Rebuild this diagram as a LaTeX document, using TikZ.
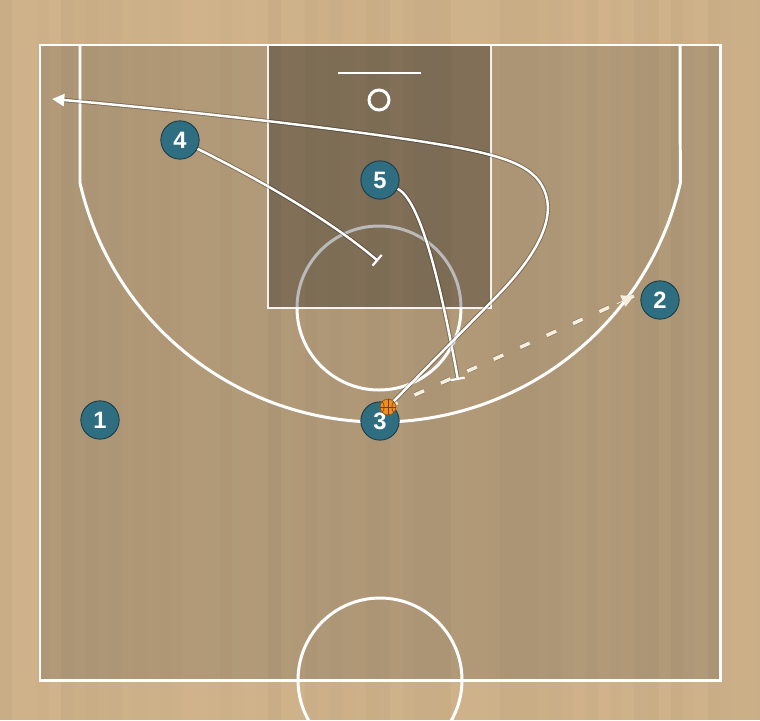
\documentclass[tikz,border=0pt]{standalone}
\usepackage{fontspec}
\setsansfont{Liberation Sans}
\usetikzlibrary{arrows.meta,calc}
\definecolor{floor}{HTML}{D2B58C}
\definecolor{court}{HTML}{B49C7A}
\definecolor{player}{HTML}{2F6E80}
\definecolor{playerrim}{HTML}{1C3A44}
\definecolor{passcol}{HTML}{F6EFE0}
\definecolor{ballcol}{HTML}{EE8E1E}
\definecolor{seamcol}{HTML}{7A3E0A}
\begin{document}
\begin{tikzpicture}[x=0.02cm,y=-0.02cm,
  courtline/.style={white,line width=1.7pt},
  plyr/.style={circle,fill=player,draw=playerrim,line width=0.5pt,minimum size=21.8pt,inner sep=0pt,text=white,font=\sffamily\bfseries\fontsize{13.5}{13.5}\selectfont},
  ballnode/.style={circle,fill=ballcol,draw=seamcol!70!ballcol,line width=0.4pt,minimum size=9pt,inner sep=0pt},
  seam/.style={seamcol,line width=0.35pt},
  move/.style={white,line width=1.4pt,preaction={draw=black,opacity=.3,line width=2.4pt}},
  passline/.style={passcol,line width=2pt,dash pattern=on 6pt off 10.5pt,preaction={draw=black,opacity=.2,line width=2.7pt,dash pattern=on 6pt off 10.5pt}}]
\useasboundingbox (0,0) rectangle (760,720);
\clip (0,0) rectangle (760,720);
% floor and court
\fill[floor] (0,0) rectangle (760,720);
\fill[court] (40,45) rectangle (720,680);
\pgfmathsetseed{7}
\foreach \i in {0,...,62}{
  \pgfmathsetmacro{\op}{0.005+0.04*rnd}
  \fill[black,opacity=\op] ({\i*12.2},0) rectangle ({\i*12.2+12.2},720);
}
% free throw circle (under paint)
\draw[courtline] (379,308) circle[radius=82];
% paint
\fill[black,opacity=.27] (268,45) rectangle (491,308);
\draw[white,opacity=.9,line width=1.2pt] (268,45) rectangle (491,308);
% court lines
\draw[courtline] (40,45) rectangle (720,680);
\draw[courtline] (80,45) -- (80,183) arc[start angle=167.05,end angle=12.95,radius=308] -- (680,45);
\draw[courtline] (380,680) circle[radius=82];
\draw[white,line width=1.2pt] (338,73) -- (421,73);
\draw[white,line width=1.7pt] (379,100) circle[radius=10];
% players
\node[plyr] (p1) at (100,420) {1};
\node[plyr] (p2) at (660,300) {2};
\node[plyr] (p3) at (380,421) {3};
\node[plyr] (p4) at (180,140) {4};
\node[plyr] (p5) at (380,180) {5};
% screen endpoints and targets
\coordinate (s4) at (378,261);
\coordinate (s5) at (458,380);
\coordinate (c3) at (52,99);
\coordinate (pe) at (634,296);
% movements
\draw[move,-{Bar[width=8pt,line width=1.3pt]}] (p4) .. controls (260,180) and (330,220) .. (s4);
\draw[move,-{Bar[width=8pt,line width=1.3pt]}] (p5) .. controls (420,200) and (440,280) .. (s5);
\draw[passline] (388,407) -- (pe);
\draw[passcol,-{Triangle[length=7pt,width=7pt]}] ($(388,407)!0.93!(pe)$) -- (pe);
% ball
\node[ballnode] (ball) at (388,407) {};
\draw[seam] (ball.north) -- (ball.south);
\draw[seam] (ball.west) -- (ball.east);
\draw[seam] (ball.north west) to[bend left=35] (ball.south west);
\draw[seam] (ball.north east) to[bend right=35] (ball.south east);
\draw[move,-{Triangle[length=7pt,width=7pt]}] (ball) -- (498,295) .. controls (530,262) and (555,225) .. (546,195) .. controls (538,168) and (510,158) .. (460,148) .. controls (380,133) and (200,112) .. (c3);
\end{tikzpicture}
\end{document}
